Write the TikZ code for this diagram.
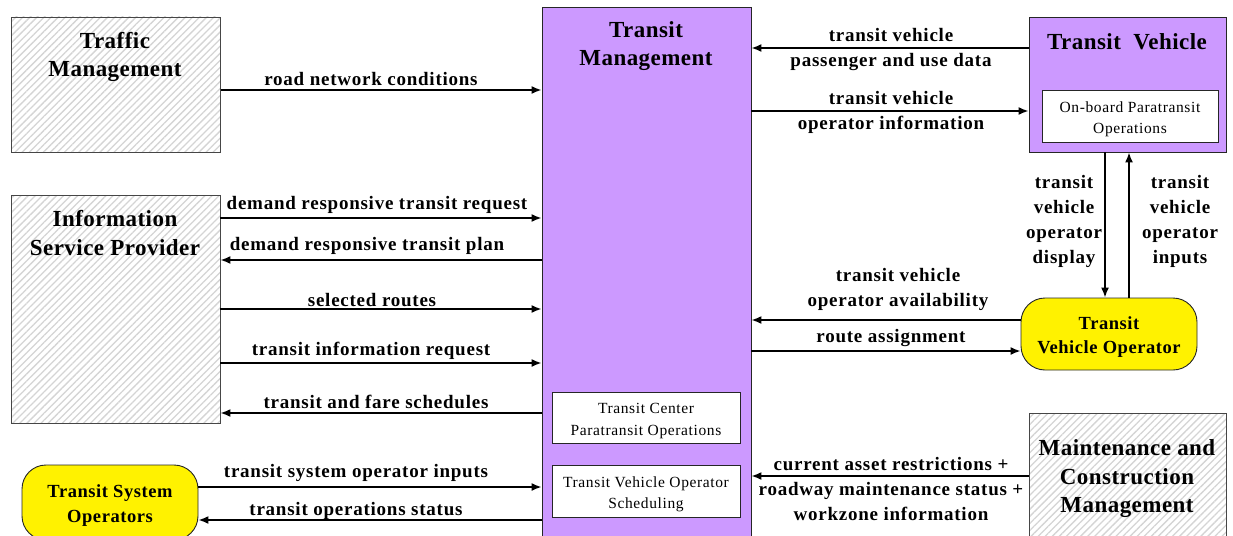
\documentclass[tikz,border=0pt]{standalone}
\usepackage{fontspec}
\setmainfont{Liberation Serif}
\usetikzlibrary{patterns.meta,arrows.meta}
\definecolor{tmpurple}{RGB}{204,153,255}
\definecolor{hatchgray}{RGB}{212,212,212}
\definecolor{edgegray}{RGB}{70,70,70}
\begin{document}
\begin{tikzpicture}[x=1pt,y=-1pt,
  hatchbox/.style={draw=edgegray,line width=0.9pt,
    pattern={Lines[angle=45,distance=5pt,line width=1.3pt]},pattern color=hatchgray,
    inner sep=0pt},
  purplebox/.style={draw=black!85,line width=0.9pt,fill=tmpurple,inner sep=0pt},
  innerbox/.style={draw=black!85,line width=0.8pt,fill=white,inner sep=0pt},
  innertext/.style={font=\fontsize{15.5}{21.5}\selectfont\addfontfeature{LetterSpace=4},
    align=center,inner sep=0pt,yshift=-3.5pt},
  termbox/.style={draw=black!85,line width=0.9pt,fill=yellow,rounded corners=24pt,inner sep=0pt},
  termtext/.style={font=\bfseries\fontsize{18.5}{24.5}\selectfont\addfontfeature{LetterSpace=3},
    align=center,inner sep=0pt,yshift=-3pt},
  title/.style={font=\bfseries\fontsize{23}{28.5}\selectfont\addfontfeature{LetterSpace=2},align=center,inner sep=0pt},
  lbl/.style={font=\bfseries\fontsize{19}{25}\selectfont\addfontfeature{LetterSpace=4},align=center,inner sep=0pt},
  flow/.style={line width=1.6pt,-{Latex[length=10pt,width=8pt]}}
]
\useasboundingbox (0,0) rectangle (1233,535);
\clip (0,0) rectangle (1233,535);

% external and internal elements
\node[hatchbox,minimum width=209pt,minimum height=135pt] (traffic) at (115.5,84.5) {};
\node[purplebox,minimum width=209pt,minimum height=540pt] (tmgmt) at (646.5,277) {};
\node[purplebox,minimum width=197pt,minimum height=135pt] (tveh) at (1127.5,84.5) {};
\node[innerbox,minimum width=176pt,minimum height=52pt,
  label={[innertext]center:On-board Paratransit\\Operations}] (onboard) at (1130,116) {};
\node[hatchbox,minimum width=209pt,minimum height=228pt] (isp) at (115.5,309) {};
\node[termbox,minimum width=176pt,minimum height=72pt,
  label={[termtext]center:Transit\\Vehicle Operator}] (tvo) at (1109,334) {};
\node[hatchbox,minimum width=197pt,minimum height=132pt] (mcm) at (1127.5,479) {};
\node[termbox,minimum width=176pt,minimum height=75pt,
  label={[termtext]center:Transit System\\Operators}] (tso) at (110,502.5) {};
\node[innerbox,minimum width=188pt,minimum height=51pt,
  label={[innertext]center:Transit Center\\Paratransit Operations}] (tcpo) at (646,417.5) {};
\node[innerbox,minimum width=188pt,minimum height=52pt,
  label={[innertext]center:Transit Vehicle Operator\\Scheduling}] (tvos) at (646,491) {};

% element titles
\node[title] (trafficT) at (115,57) {Traffic\\Management};
\node[title] (tmgmtT) at (646,46) {Transit\\Management};
\node[title] (tvehT) at (1127,42) {Transit\ \ Vehicle};
\node[title] (ispT) at (115,233) {Information\\Service Provider};
\node[title] (mcmT) at (1127,479) {Maintenance and\\Construction\\Management};

% flows on the left side
\draw[flow] (traffic.east |- 0,90) -- (tmgmt.west |- 0,90);
\node[lbl] (l1) at (371,79) {road network conditions};
\draw[flow] (isp.east |- 0,218) -- (tmgmt.west |- 0,218);
\node[lbl] (l2) at (377,205) {demand responsive transit request};
\draw[flow] (tmgmt.west |- 0,260) -- (isp.east |- 0,260);
\node[lbl] (l3) at (367,246) {demand responsive transit plan};
\draw[flow] (isp.east |- 0,309) -- (tmgmt.west |- 0,309);
\node[lbl] (l4) at (372,300) {selected routes};
\draw[flow] (isp.east |- 0,363) -- (tmgmt.west |- 0,363);
\node[lbl] (l5) at (371,351) {transit information request};
\draw[flow] (tmgmt.west |- 0,413) -- (isp.east |- 0,413);
\node[lbl] (l6) at (376,402) {transit and fare schedules};
\draw[flow] (tso.east |- 0,487) -- (tmgmt.west |- 0,487);
\node[lbl] (l7) at (356,473) {transit system operator inputs};
\draw[flow] (tmgmt.west |- 0,520) -- (tso.east |- 0,520);
\node[lbl] (l8) at (356,511) {transit operations status};

% flows on the right side
\draw[flow] (tveh.west |- 0,48) -- (tmgmt.east |- 0,48);
\node[lbl] (r1) at (891,50) {transit vehicle\\passenger and use data};
\draw[flow] (tmgmt.east |- 0,111) -- (tveh.west |- 0,111);
\node[lbl] (r2) at (891,112) {transit vehicle\\operator information};
\draw[flow] (tvo.west |- 0,320) -- (tmgmt.east |- 0,320);
\node[lbl] (r3) at (898,289) {transit vehicle\\operator availability};
\draw[flow] (tmgmt.east |- 0,351) -- (tvo.west |- 0,351);
\node[lbl] (r4) at (891,338) {route assignment};
\draw[flow] (mcm.west |- 0,476) -- (tmgmt.east |- 0,476);
\node[lbl] (r5) at (891,489) {current asset restrictions +\\roadway maintenance status +\\workzone information};

% flows between the vehicle and its operator
\draw[flow] (tveh.south -| 1105,0) -- (tvo.north -| 1105,0);
\node[lbl] (v1) at (1064,221) {transit\\vehicle\\operator\\display};
\draw[flow] (tvo.north -| 1129,0) -- (tveh.south -| 1129,0);
\node[lbl] (v2) at (1180,221) {transit\\vehicle\\operator\\inputs};
\end{tikzpicture}
\end{document}
